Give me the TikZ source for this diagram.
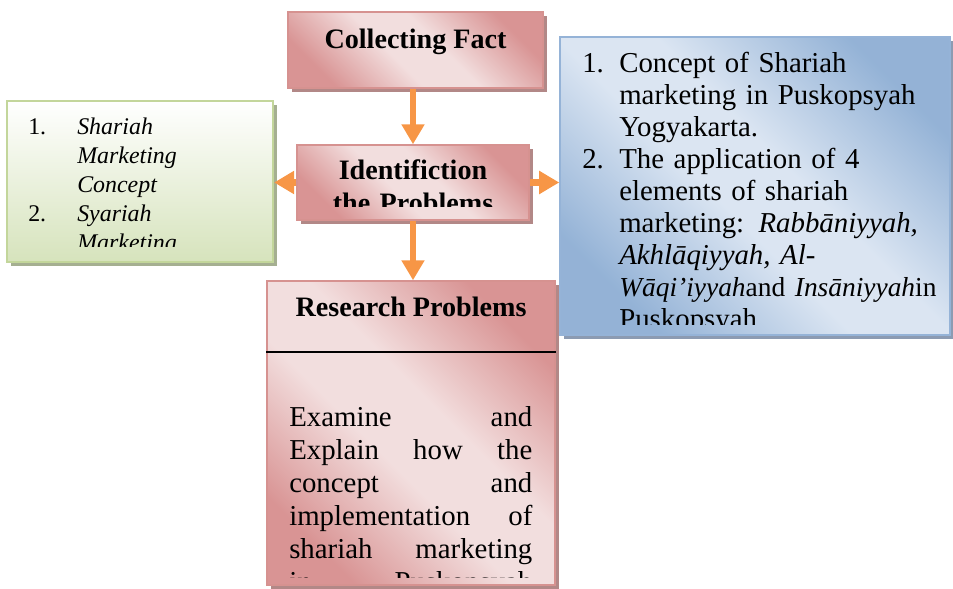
\documentclass[tikz,border=0pt]{standalone}
\usepackage{fontspec}
\setmainfont{Liberation Serif}
\usetikzlibrary{arrows.meta,shadows}

\definecolor{pinkline}{RGB}{214,146,144}
\definecolor{pinkshadow}{RGB}{178,136,135}
\definecolor{blueline}{RGB}{149,179,215}
\definecolor{blueshadow}{RGB}{140,155,178}
\definecolor{greenline}{RGB}{195,214,155}
\definecolor{greenfill}{RGB}{214,227,188}
\definecolor{greenshadow}{RGB}{165,175,145}
\definecolor{arrowor}{RGB}{247,150,70}

\pgfdeclarehorizontalshading{pinkglow}{100bp}{rgb(0bp)=(0.85,0.58,0.58); rgb(25bp)=(0.85,0.58,0.58); rgb(44bp)=(0.95,0.87,0.87); rgb(56bp)=(0.95,0.87,0.87); rgb(75bp)=(0.85,0.58,0.58); rgb(100bp)=(0.85,0.58,0.58)}
\pgfdeclarehorizontalshading{blueglow}{100bp}{rgb(0bp)=(0.58,0.70,0.84); rgb(25bp)=(0.58,0.70,0.84); rgb(45bp)=(0.86,0.90,0.95); rgb(55bp)=(0.86,0.90,0.95); rgb(75bp)=(0.58,0.70,0.84); rgb(100bp)=(0.58,0.70,0.84)}

\begin{document}
\begin{tikzpicture}[
    x=0.025cm, y=-0.025cm,
    pinkbox/.style={draw=pinkline, line width=1pt, shade, shading=pinkglow, shading angle=45,
        drop shadow={shadow xshift=0.09cm, shadow yshift=-0.09cm, fill=pinkshadow, opacity=1}},
    bluebox/.style={draw=blueline, line width=1pt, shade, shading=blueglow, shading angle=45,
        drop shadow={shadow xshift=0.09cm, shadow yshift=-0.09cm, fill=blueshadow, opacity=1}},
    greenbox/.style={draw=greenline, line width=1.5pt, top color=white, bottom color=greenfill,
        drop shadow={shadow xshift=0.09cm, shadow yshift=-0.09cm, fill=greenshadow, opacity=1}},
    headtext/.style={font=\fontsize{20}{23.4}\selectfont\bfseries, inner sep=0pt, align=center},
    bodytext/.style={font=\fontsize{20.5}{23.4}\selectfont, inner sep=0pt, anchor=base west},
    listtext/.style={font=\fontsize{20.5}{22.7}\selectfont, inner sep=0pt, anchor=base west},
    sidetext/.style={font=\fontsize{17}{20.5}\selectfont, inner sep=0pt, anchor=base west},
    flow/.style={draw=arrowor, line width=0.17cm, -{Triangle[width=0.55cm,length=0.5cm]}}
]
\useasboundingbox (0,0) rectangle (953,589);

% boxes
\node[pinkbox, minimum width=6.375cm, minimum height=1.9cm] (collect) at (415.5,50) {};
\node[pinkbox, minimum width=5.8cm, minimum height=1.875cm] (ident) at (413,182.5) {};
\node[greenbox, minimum width=6.65cm, minimum height=4.025cm] (green) at (140,181.5) {};
\node[bluebox, minimum width=9.75cm, minimum height=7.45cm] (blue) at (755,186) {};
\node[pinkbox, minimum width=7.2cm, minimum height=7.6cm] (research) at (411,433) {};

% Collecting Fact
\node[headtext, anchor=base] (collect-t) at (415.5,49) {Collecting Fact};

% Identifiction the Problems
\begin{scope}
\clip (ident.north west) rectangle (529,207);
\node[headtext, anchor=base, text width=5.6cm] (ident-t) at (413,180) {Identifiction\\the Problems};
\end{scope}

% teori
\begin{scope}
\clip (green.north west) rectangle (273,247);
\node[sidetext] (green-1) at (28,135) {1.};
\node[sidetext] (green-2) at (28,222) {2.};
\node[sidetext, text width=4.5cm, align=left] (green-t) at (77,135)
    {\itshape Shariah\\ Marketing\\ Concept\\ Syariah\\ Marketing};
\end{scope}

% fokus
\begin{scope}
\clip (blue.north west) rectangle (950,325);
\node[listtext] (blue-1) at (582,73) {1.};
\node[listtext] (blue-2) at (582,169) {2.};
\node[listtext, text width=9.5cm, align=left] (blue-t) at (619,73)
    {Concept of Shariah\\ marketing in Puskopsyah\\ Yogyakarta.\\ The application of 4\\
     elements of shariah\\ marketing: \textit{Rabbāniyyah,}\\ \textit{Akhlāqiyyah, Al-}\\
     {\fontsize{19.5}{22.7}\selectfont\textit{Wāqi’iyyah}and \textit{Insāniyyah}in}\\ Puskopsyah};
\end{scope}

% Research Problems
\node[headtext, anchor=base] (research-t) at (411,317) {Research Problems};
\draw[line width=1pt] (research.west |- 0,352) -- (research.east |- 0,352);
\begin{scope}
\clip (research.west |- 0,353) rectangle (555,577);
\node[bodytext, text width=6.075cm, align=left] (research-b) at (289,427)
    {Examine \hfill and\\ Explain \hfill how \hfill the\\ concept \hfill and\\
     implementation \hfill of\\ shariah \hfill marketing\\ in \hfill Puskopsyah};
\end{scope}

% arrows
\draw[flow] (collect.south -| ident.north) -- (ident.north);
\draw[flow] (ident.west) -- (ident.west -| green.east);
\draw[flow] (ident.east) -- (ident.east -| blue.west);
\draw[flow] (ident.south) -- (ident.south |- research.north);
\end{tikzpicture}
\end{document}
